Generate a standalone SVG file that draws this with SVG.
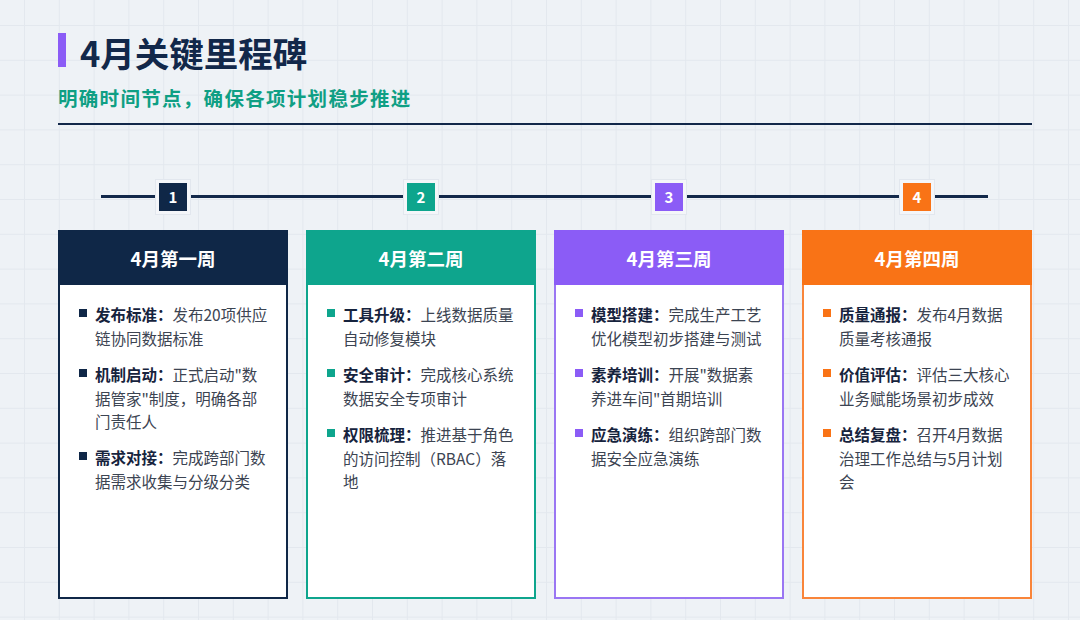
<svg xmlns="http://www.w3.org/2000/svg" width="1080" height="620" viewBox="0 0 1080 620">
<defs>
<pattern id="grid" x="24" y="25" width="34.8" height="34.8" patternUnits="userSpaceOnUse">
<rect x="0" y="0" width="34.8" height="1" fill="#e3e8ee"/>
<rect x="0" y="0" width="1" height="34.8" fill="#e3e8ee"/>
</pattern>
<style>
text{font-family:"Noto Sans CJK SC","Noto Sans",sans-serif;}
.title{font-size:34.5px;font-weight:700;fill:#12284a;}
.sub{font-size:19.5px;font-weight:700;fill:#0f9f84;letter-spacing:1.3px;}
.hdr{font-size:18.5px;font-weight:700;fill:#ffffff;text-anchor:middle;}
.num{font-size:15px;font-weight:700;fill:#ffffff;text-anchor:middle;}
.body{font-size:15.5px;fill:#3c4452;}
.b{font-weight:700;fill:#16233d;}
.halo{fill:#f4f6f9;stroke:#e2e7ee;stroke-width:1;}
.card{fill:#ffffff;stroke-width:2;}
</style>
</defs>
<rect width="1080" height="620" fill="#eef2f6"/>
<rect width="1080" height="620" fill="url(#grid)"/>

<g id="header">
<rect x="58" y="33" width="8" height="34" fill="#8b5cf6"/>
<text class="title" x="80" y="67">4月关键里程碑</text>
<text class="sub" x="58" y="106">明确时间节点，确保各项计划稳步推进</text>
<rect x="58" y="123" width="974" height="2" fill="#12284a"/>
</g>

<g id="connectors">
<line x1="101" y1="196.5" x2="988" y2="196.5" stroke="#12284a" stroke-width="3"/>
</g>

<g id="step1">
<rect class="halo" x="155.5" y="179.5" width="35" height="35"/>
<rect x="159" y="183" width="28" height="28" fill="#0f2747"/>
<text class="num" x="173" y="202.5">1</text>
</g>
<g id="step2">
<rect class="halo" x="403.5" y="179.5" width="35" height="35"/>
<rect x="407" y="183" width="28" height="28" fill="#0ea58d"/>
<text class="num" x="421" y="202.5">2</text>
</g>
<g id="step3">
<rect class="halo" x="651.5" y="179.5" width="35" height="35"/>
<rect x="655" y="183" width="28" height="28" fill="#8b5cf6"/>
<text class="num" x="669" y="202.5">3</text>
</g>
<g id="step4">
<rect class="halo" x="899.5" y="179.5" width="35" height="35"/>
<rect x="903" y="183" width="28" height="28" fill="#f97316"/>
<text class="num" x="917" y="202.5">4</text>
</g>

<g id="card1">
<rect class="card" x="59" y="231" width="228" height="367" stroke="#0f2747"/>
<rect x="58" y="230" width="230" height="55" fill="#0f2747"/>
<text class="hdr" x="173" y="266">4月第一周</text>
<g fill="#0f2747">
<rect x="79" y="309" width="8" height="8"/>
<rect x="79" y="369" width="8" height="8"/>
<rect x="79" y="452" width="8" height="8"/>
</g>
<text class="body" x="95" y="321"><tspan class="b">发布标准：</tspan>发布20项供应</text>
<text class="body" x="95" y="344.5">链协同数据标准</text>
<text class="body" x="95" y="381"><tspan class="b">机制启动：</tspan>正式启动"数</text>
<text class="body" x="95" y="404.5">据管家"制度，明确各部</text>
<text class="body" x="95" y="428">门责任人</text>
<text class="body" x="95" y="464"><tspan class="b">需求对接：</tspan>完成跨部门数</text>
<text class="body" x="95" y="487.5">据需求收集与分级分类</text>
</g>

<g id="card2">
<rect class="card" x="307" y="231" width="228" height="367" stroke="#0ea58d"/>
<rect x="306" y="230" width="230" height="55" fill="#0ea58d"/>
<text class="hdr" x="421" y="266">4月第二周</text>
<g fill="#0ea58d">
<rect x="327" y="309" width="8" height="8"/>
<rect x="327" y="369" width="8" height="8"/>
<rect x="327" y="429" width="8" height="8"/>
</g>
<text class="body" x="343" y="321"><tspan class="b">工具升级：</tspan>上线数据质量</text>
<text class="body" x="343" y="344.5">自动修复模块</text>
<text class="body" x="343" y="381"><tspan class="b">安全审计：</tspan>完成核心系统</text>
<text class="body" x="343" y="404.5">数据安全专项审计</text>
<text class="body" x="343" y="441"><tspan class="b">权限梳理：</tspan>推进基于角色</text>
<text class="body" x="343" y="464.5">的访问控制（RBAC）落</text>
<text class="body" x="343" y="488">地</text>
</g>

<g id="card3">
<rect class="card" x="555" y="231" width="228" height="367" stroke="#9a76f3"/>
<rect x="554" y="230" width="230" height="55" fill="#8b5cf6"/>
<text class="hdr" x="669" y="266">4月第三周</text>
<g fill="#8b5cf6">
<rect x="575" y="309" width="8" height="8"/>
<rect x="575" y="369" width="8" height="8"/>
<rect x="575" y="429" width="8" height="8"/>
</g>
<text class="body" x="591" y="321"><tspan class="b">模型搭建：</tspan>完成生产工艺</text>
<text class="body" x="591" y="344.5">优化模型初步搭建与测试</text>
<text class="body" x="591" y="381"><tspan class="b">素养培训：</tspan>开展"数据素</text>
<text class="body" x="591" y="404.5">养进车间"首期培训</text>
<text class="body" x="591" y="441"><tspan class="b">应急演练：</tspan>组织跨部门数</text>
<text class="body" x="591" y="464.5">据安全应急演练</text>
</g>

<g id="card4">
<rect class="card" x="803" y="231" width="228" height="367" stroke="#f9853a"/>
<rect x="802" y="230" width="230" height="55" fill="#f97316"/>
<text class="hdr" x="917" y="266">4月第四周</text>
<g fill="#f97316">
<rect x="823" y="309" width="8" height="8"/>
<rect x="823" y="369" width="8" height="8"/>
<rect x="823" y="429" width="8" height="8"/>
</g>
<text class="body" x="839" y="321"><tspan class="b">质量通报：</tspan>发布4月数据</text>
<text class="body" x="839" y="344.5">质量考核通报</text>
<text class="body" x="839" y="381"><tspan class="b">价值评估：</tspan>评估三大核心</text>
<text class="body" x="839" y="404.5">业务赋能场景初步成效</text>
<text class="body" x="839" y="441"><tspan class="b">总结复盘：</tspan>召开4月数据</text>
<text class="body" x="839" y="464.5">治理工作总结与5月计划</text>
<text class="body" x="839" y="488">会</text>
</g>
</svg>
